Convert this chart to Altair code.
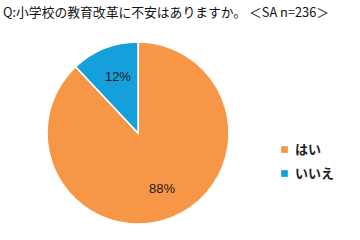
import altair as alt
import pandas as pd

categories = ["はい", "いいえ"]
values = [88, 12]
labels = ["88%", "12%"]
colors = ["#F79646", "#15A0DB"]

df = pd.DataFrame({"cat": categories, "val": values, "label": labels, "ord": [0, 1]})

base = alt.Chart(df).encode(
    theta=alt.Theta("val:Q", stack=True),
    order=alt.Order("ord:Q"),
)

pie = base.mark_arc(radius=91, stroke="white", strokeWidth=1.5).encode(
    x=alt.value(138), y=alt.value(133),
    color=alt.Color(
        "cat:N",
        scale=alt.Scale(domain=categories, range=colors),
        sort=categories,
        legend=alt.Legend(
            title=None, orient="none", legendX=278, legendY=143,
            symbolType="square", symbolSize=45, labelFontSize=13,
            labelFont="Noto Sans CJK JP", labelFontWeight="bold",
            labelColor="#222", rowPadding=10, symbolStrokeWidth=0,
        ),
    ),
)

text = base.mark_text(radius=60, fontSize=13, font="Liberation Sans", color="#1a1a1a").encode(
    x=alt.value(140), y=alt.value(133), text="label:N"
)

title = alt.Chart(pd.DataFrame({"t": ["Q:小学校の教育改革に不安はありますか。 ＜SA n=236＞"]})).mark_text(
    align="left", baseline="middle", fontSize=12.8, font="Noto Sans CJK JP", color="#111"
).encode(x=alt.value(3), y=alt.value(13), text="t:N")

chart = alt.layer(pie, text, title).properties(
    width=360, height=240, padding=0, autosize=alt.AutoSizeParams(type="none")
).configure_view(stroke=None)

chart.save("out.html", embed_options={"renderer": "svg", "actions": False})
